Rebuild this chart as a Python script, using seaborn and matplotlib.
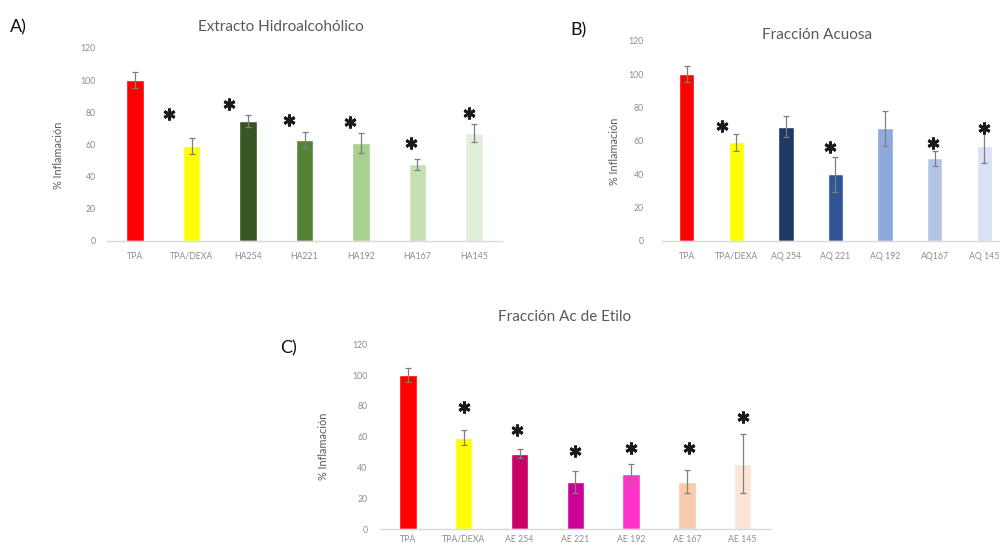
import matplotlib
matplotlib.use("Agg")
import matplotlib.pyplot as plt
import seaborn as sns
import pandas as pd

# --- data -------------------------------------------------------------
labels_a = ["TPA", "TPA/DEXA", "HA254", "HA221", "HA192", "HA167", "HA145"]
values_a = [100, 59, 74.5, 62.5, 60.8, 47.5, 67]
errors_a = [5, 5, 3.5, 5, 6, 3.5, 5.5]
signif_a = [False, True, True, True, True, True, True]
star_y_a = [None, 78.6, 84.8, 75.4, 73.6, 61, 79.2]
star_dx_a = [0, -0.40, -0.34, -0.28, -0.20, -0.12, -0.09]

labels_b = ["TPA", "TPA/DEXA", "AQ 254", "AQ 221", "AQ 192", "AQ167", "AQ 145"]
values_b = [100, 59, 68.5, 40, 67.5, 49.5, 57]
errors_b = [5, 5, 6.5, 10.5, 10.5, 4.5, 10.5]
signif_b = [False, True, False, True, False, True, True]
star_y_b = [None, 69, None, 56.4, None, 58.8, 67.8]
star_dx_b = [0, -0.28, 0, -0.12, 0, -0.04, 0]

labels_c = ["TPA", "TPA/DEXA", "AE 254", "AE 221", "AE 192", "AE 167", "AE 145"]
values_c = [100, 59.3, 48.9, 30.7, 35.5, 30.7, 42.5]
errors_c = [4.5, 5, 3, 7, 7, 7.5, 19]
signif_c = [False, True, True, True, True, True, True]
star_y_c = [None, 79.2, 64.3, 50.6, 52.8, 52.6, 72.9]
star_dx_c = [0, 0, -0.04, 0, 0, 0.04, 0]

colors_a = ["#FF0000", "#FFFF00", "#375623", "#548235", "#A9D08E", "#C6E0B4", "#E2EFDA"]
colors_b = ["#FF0000", "#FFFF00", "#1F3864", "#2F5597", "#8EA9DB", "#B4C6E7", "#D9E1F2"]
colors_c = ["#FF0000", "#FFFF00", "#CC0066", "#CC0099", "#FF33CC", "#F8CBAD", "#FBE5D6"]

titles = ["Extracto Hidroalcohólico", "Fracción Acuosa", "Fracción Ac de Etilo"]
ylabel = "% Inflamación"
yticks = [0, 20, 40, 60, 80, 100, 120]

# --- style ------------------------------------------------------------
sns.set_theme(style="white")
plt.rcParams["font.family"] = ["Lato", "DejaVu Sans"]

fig = plt.figure(figsize=(10, 5.46), dpi=100)

TICK_COLOR = "#8C8C8C"
TITLE_COLOR = "#595959"
AXIS_COLOR = "#D9D9D9"


def panel(rect, labels, values, errors, signif, star_y, star_dx, colors,
          ytick_pad, xtick_pad, ylabel_x):
    ax = fig.add_axes(rect)
    df = pd.DataFrame({"grupo": labels, "valor": values})
    sns.barplot(data=df, x="grupo", y="valor", hue="grupo", palette=colors,
                width=0.31, saturation=1, errorbar=None, legend=False, ax=ax)
    xs = list(range(len(labels)))
    ax.errorbar(xs, values, yerr=errors, fmt="none", ecolor="#7F7F7F",
                elinewidth=0.9, capsize=2.4, capthick=0.9, zorder=3)
    sx = [x + dx for x, dx, s in zip(xs, star_dx, signif) if s]
    sy = [y for y, s in zip(star_y, signif) if s]
    ax.plot(sx, sy, linestyle="none", marker=(6, 2, 0), markersize=8.5,
            markeredgewidth=2.1, color="#1A1A1A", zorder=4)
    ax.set_xlim(-0.5, len(labels) - 0.5)
    ax.set_ylim(0, 120)
    ax.set_yticks(yticks)
    ax.set_xlabel("")
    ax.set_ylabel(ylabel, fontsize=7.8, color="#595959")
    ax.yaxis.set_label_coords(ylabel_x, 0.445)
    for side in ("top", "right", "left"):
        ax.spines[side].set_visible(False)
    ax.spines["bottom"].set_color(AXIS_COLOR)
    ax.spines["bottom"].set_linewidth(1.0)
    ax.tick_params(axis="both", length=0, labelsize=6.3, labelcolor=TICK_COLOR)
    ax.tick_params(axis="x", pad=xtick_pad)
    ax.tick_params(axis="y", pad=ytick_pad)
    ax.patch.set_alpha(0)
    return ax


panel([0.107, 0.5592, 0.395, 0.353], labels_a, values_a, errors_a, signif_a,
      star_y_a, star_dx_a, colors_a, ytick_pad=8, xtick_pad=8, ylabel_x=-0.109)
panel([0.662, 0.5592, 0.347, 0.3663], labels_b, values_b, errors_b, signif_b,
      star_y_b, star_dx_b, colors_b, ytick_pad=13, xtick_pad=8, ylabel_x=-0.121)
panel([0.380, 0.0311, 0.3906, 0.3385], labels_c, values_c, errors_c, signif_c,
      star_y_c, star_dx_c, colors_c, ytick_pad=9, xtick_pad=4, ylabel_x=-0.131)

# titles
fig.text(281 / 1000, 1 - 27 / 546, titles[0], ha="center", va="center",
         fontsize=11, color=TITLE_COLOR)
fig.text(817 / 1000, 1 - 35 / 546, titles[1], ha="center", va="center",
         fontsize=11, color=TITLE_COLOR)
fig.text(565 / 1000, 1 - 317 / 546, titles[2], ha="center", va="center",
         fontsize=11, color=TITLE_COLOR)

# panel letters
fig.text(10 / 1000, 1 - 27 / 546, "A)", ha="left", va="center", fontsize=13, color="#111111")
fig.text(570 / 1000, 1 - 30 / 546, "B)", ha="left", va="center", fontsize=13, color="#111111")
fig.text(280 / 1000, 1 - 348 / 546, "C)", ha="left", va="center", fontsize=13, color="#111111")

fig.savefig("out.png", dpi=100, facecolor="white")
